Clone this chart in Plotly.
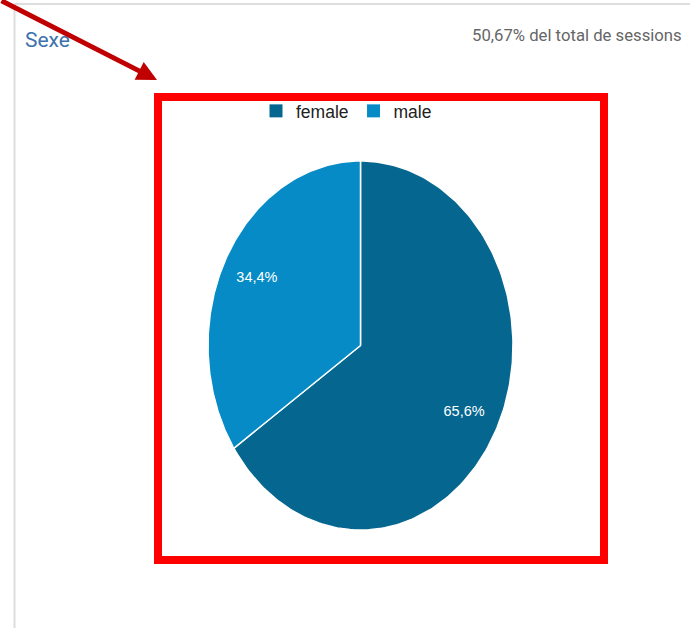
import numpy as np
import plotly.graph_objects as go

# ---- data ----
categories = ["female", "male"]
values = [65.6, 34.4]
title_text = "Sexe"
subtitle_text = "50,67% del total de sessions"

# ---- styles ----
slice_colors = ["#05668f", "#068bc6"]
W, H = 690, 628

def px(x):
    return x / W

def py(y):
    return 1 - y / H

fig = go.Figure()

total = float(sum(values))
fracs = [v / total for v in values]
start = 0.0
label_x, label_y, label_txt = [], [], []
for cat, v, f, col in zip(categories, values, fracs, slice_colors):
    t = np.linspace(start, start + f, 200) * 2 * np.pi
    xs = np.concatenate([[0], np.sin(t), [0]])
    ys = np.concatenate([[0], np.cos(t), [0]])
    fig.add_trace(go.Scatter(
        x=xs, y=ys, mode="lines", fill="toself", fillcolor=col,
        line=dict(color="white", width=1.5), name=cat, showlegend=False,
        hoverinfo="name",
    ))
    mid = (start + f / 2) * 2 * np.pi
    label_x.append(0.77 * np.sin(mid))
    label_y.append(0.77 * np.cos(mid))
    label_txt.append(f"{v:.1f}%".replace(".", ","))
    start += f

fig.add_trace(go.Scatter(
    x=label_x, y=label_y, mode="text", text=label_txt,
    textfont=dict(color="white", size=14.5, family="Liberation Sans, Arial"),
    showlegend=False, hoverinfo="skip",
))

# legend entries
for cat, col in zip(categories, slice_colors):
    fig.add_trace(go.Scatter(
        x=[None], y=[None], mode="markers", name=cat,
        marker=dict(symbol="square", size=13, color=col),
    ))

fig.update_layout(
    width=W, height=H,
    margin=dict(l=0, r=0, t=0, b=0),
    paper_bgcolor="white", plot_bgcolor="white",
    xaxis=dict(domain=[px(208), px(513)], range=[-1, 1], visible=False, fixedrange=True),
    yaxis=dict(domain=[py(530), py(161)], range=[-1, 1], visible=False, fixedrange=True),
    showlegend=True,
    legend=dict(
        orientation="h", x=px(256), y=py(93), xanchor="left", yanchor="top",
        font=dict(size=17.5, family="Liberation Sans, Arial", color="#222222"),
        bgcolor="rgba(0,0,0,0)", itemclick=False, itemwidth=30,
    ),
    shapes=[
        dict(type="line", xref="paper", yref="paper", x0=px(14.5), x1=px(14.5),
             y0=py(4), y1=py(628), line=dict(color="#dddddd", width=2)),
        dict(type="line", xref="paper", yref="paper", x0=px(14), x1=px(690),
             y0=py(4), y1=py(4), line=dict(color="#dddddd", width=2)),
        dict(type="rect", xref="paper", yref="paper", x0=px(158), x1=px(604),
             y0=py(560), y1=py(97), line=dict(color="#ff0000", width=8)),
    ],
    annotations=[
        dict(text=title_text, xref="paper", yref="paper", x=px(23), y=py(40),
             xanchor="left", yanchor="middle", showarrow=False,
             font=dict(size=21, family="Roboto", color="#3c72ae")),
        dict(text=subtitle_text, xref="paper", yref="paper", x=px(684), y=py(35),
             xanchor="right", yanchor="middle", showarrow=False,
             font=dict(size=16.7, family="Roboto", color="#666666")),
        dict(text="", xref="paper", yref="paper", x=px(157), y=py(80),
             ax=-160, ay=-87, axref="pixel", ayref="pixel",
             showarrow=True, arrowhead=2, arrowsize=0.8, arrowwidth=5,
             arrowcolor="#c00000", standoff=0),
    ],
)

fig.write_html("out.html", config={"displayModeBar": False},
               post_script="document.body.style.margin='0';document.body.style.padding='0';")
